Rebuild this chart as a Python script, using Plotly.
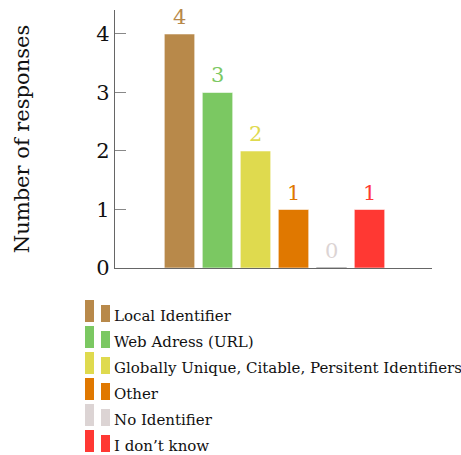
import plotly.graph_objects as go

# Survey answers: which identifier type is used
categories = [
    "Local Identifier",
    "Web Adress (URL)",
    "Globally Unique, Citable, Persitent Identifiers",
    "Other",
    "No Identifier",
    "I don\u2019t know",
]
responses = [4, 3, 2, 1, 0, 1]
colors = ["#B8894A", "#7BC862", "#DFDA4E", "#E07800", "#DCD4D4", "#FF3833"]
y_ticks = [0, 1, 2, 3, 4]

W, H = 461, 455
L, R, T, B = 115, 29, 10, 187
PW, PH = W - L - R, H - T - B
BAR_W = 0.8

SERIF = "DejaVu Serif"


def px_x(px):
    return (px - L) / PW


def px_y(py):
    return (H - B - py) / PH


positions = list(range(len(categories)))

fig = go.Figure()
fig.add_trace(
    go.Bar(
        x=positions,
        y=responses,
        width=BAR_W,
        marker=dict(color=colors, line=dict(color="rgba(255,255,255,0.55)", width=1)),
        showlegend=False,
        hoverinfo="skip",
    )
)

shapes = []

# value labels above bars, in the bar colour; empty bars get a thin grey edge
for xi, v, c in zip(positions, responses, colors):
    fig.add_annotation(
        x=xi, y=v, text=str(v), showarrow=False,
        xanchor="center", yanchor="bottom", yshift=3,
        font=dict(family=SERIF, size=21, color=c),
    )
    if v == 0:
        shapes.append(dict(type="line", xref="x", yref="y",
                           x0=xi - BAR_W / 2, x1=xi + BAR_W / 2, y0=v, y1=v,
                           line=dict(color="#AAAAAA", width=1.5), layer="above"))

# legend drawn below the axis: two small bars + label per entry
row0, step = 300, 26
for i, (name, c) in enumerate(zip(categories, colors)):
    top = row0 + step * i
    bot = top + 22
    shapes.append(dict(type="rect", xref="paper", yref="paper",
                       x0=px_x(85), x1=px_x(94), y0=px_y(bot), y1=px_y(top),
                       fillcolor=c, line=dict(width=0)))
    shapes.append(dict(type="rect", xref="paper", yref="paper",
                       x0=px_x(101), x1=px_x(110), y0=px_y(bot), y1=px_y(top + 5),
                       fillcolor=c, line=dict(width=0)))
    fig.add_annotation(
        xref="paper", yref="paper", x=px_x(112), y=px_y(top + 16),
        text=name, showarrow=False, xanchor="left", yanchor="middle",
        font=dict(family=SERIF, size=15, color="#111"),
    )

fig.update_layout(
    width=W, height=H,
    margin=dict(l=L, r=R, t=T, b=B),
    paper_bgcolor="white", plot_bgcolor="white",
    shapes=shapes,
    xaxis=dict(
        range=[(L - 179.5) / 38, (W - R - 179.5) / 38],
        showticklabels=False, ticks="", showgrid=False, zeroline=False,
        showline=True, linecolor="#666", linewidth=1.3,
    ),
    yaxis=dict(
        range=[0, 4.41], tickvals=y_ticks, ticks="inside", ticklen=11,
        tickcolor="#888", tickwidth=1, showgrid=False, zeroline=False,
        showline=True, linecolor="#666", linewidth=1.3,
        tickfont=dict(family=SERIF, size=21, color="#111"),
        title=dict(text="Number of responses", standoff=60,
                   font=dict(family=SERIF, size=21, color="#111")),
    ),
)

fig.write_html("out.html")
